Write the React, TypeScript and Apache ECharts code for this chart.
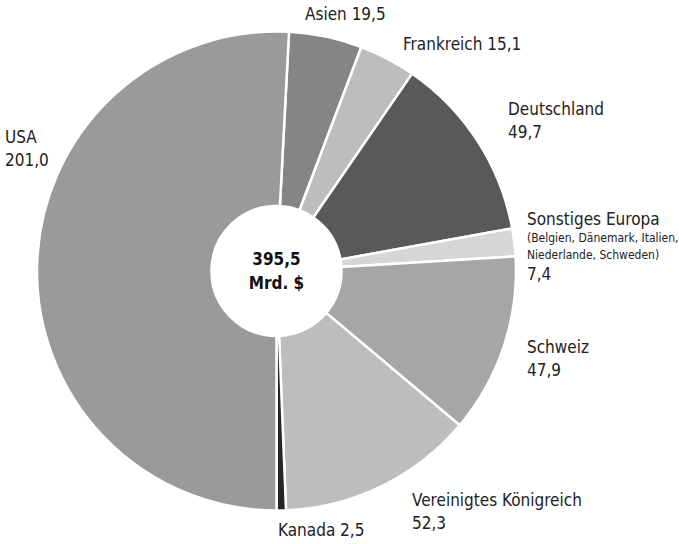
import React, { useEffect, useRef } from "react";
import * as echarts from "echarts";

const categories = [
  "Asien",
  "Frankreich",
  "Deutschland",
  "Sonstiges Europa",
  "Schweiz",
  "Vereinigtes Königreich",
  "Kanada",
  "USA",
];
const values = [19.5, 15.1, 49.7, 7.4, 47.9, 52.3, 2.5, 201.0];
const notes = ["", "", "", "(Belgien, Dänemark, Italien,\nNiederlande, Schweden)", "", "", "", ""];
const inlineValue = [true, true, false, false, false, false, true, false];
const totalLabel = ["395,5", "Mrd. $"];

const colors = ["#858585", "#bdbdbd", "#595959", "#d6d6d6", "#a6a6a6", "#bdbdbd", "#262626", "#9a9a9a"];

// label anchor positions (left, vertical middle of block)
const labelPos: [number, number][] = [
  [305, 14],
  [403, 44],
  [508, 120],
  [527, 246],
  [527, 358],
  [412, 511],
  [278, 530],
  [5, 148],
];

const FONT = "'DejaVu Sans Condensed', 'Liberation Sans Narrow', sans-serif";
const fmt = (v: number) => v.toFixed(1).replace(".", ",");

export default function App() {
  const ref = useRef<HTMLDivElement>(null);
  useEffect(() => {
    document.body.style.margin = "0";
    if (!ref.current) return;
    const chart = echarts.init(ref.current, undefined, { renderer: "svg" });
    const cx = 276.5;
    const cy = 271;
    chart.setOption({
      animation: false,
      backgroundColor: "#ffffff",
      graphic: [
        {
          type: "text",
          x: cx,
          y: cy - 12,
          style: {
            text: totalLabel[0],
            font: `bold 17px ${FONT}`,
            fill: "#111",
            textAlign: "center",
            textVerticalAlign: "middle",
          },
          z: 10,
        },
        {
          type: "text",
          x: cx,
          y: cy + 12,
          style: {
            text: totalLabel[1],
            font: `bold 17px ${FONT}`,
            fill: "#111",
            textAlign: "center",
            textVerticalAlign: "middle",
          },
          z: 10,
        },
      ],
      series: [
        {
          type: "pie",
          center: [cx, cy],
          radius: [65, 239.5],
          startAngle: 87,
          clockwise: true,
          silent: true,
          avoidLabelOverlap: false,
          itemStyle: { borderColor: "#ffffff", borderWidth: 2.5 },
          label: {
            show: true,
            position: "outside",
            fontFamily: FONT,
            fontSize: 17,
            lineHeight: 23,
            color: "#222",
            formatter: (p: any) => {
              const i = p.dataIndex;
              const v = fmt(values[i]);
              if (notes[i]) {
                const lines = notes[i].split("\n").map((l) => `{s|${l}}`).join("\n");
                return `{a|${categories[i]}}\n${lines}\n{a|${v}}`;
              }
              return inlineValue[i] ? `${categories[i]} ${v}` : `${categories[i]}\n${v}`;
            },
            rich: {
              a: { fontFamily: FONT, fontSize: 17, lineHeight: 21, color: "#222" },
              s: { fontFamily: FONT, fontSize: 12, lineHeight: 17, color: "#222" },
            },
          },
          labelLine: { show: false },
          labelLayout: (params: any) => {
            const p = labelPos[params.dataIndex];
            return { x: p[0], y: p[1], align: "left", verticalAlign: "middle" };
          },
          emphasis: { disabled: true },
          data: categories.map((c, i) => ({
            name: c,
            value: values[i],
            itemStyle: { color: colors[i] },
          })),
        },
      ],
    });
    return () => chart.dispose();
  }, []);
  return <div ref={ref} style={{ width: 679, height: 544 }} />;
}
